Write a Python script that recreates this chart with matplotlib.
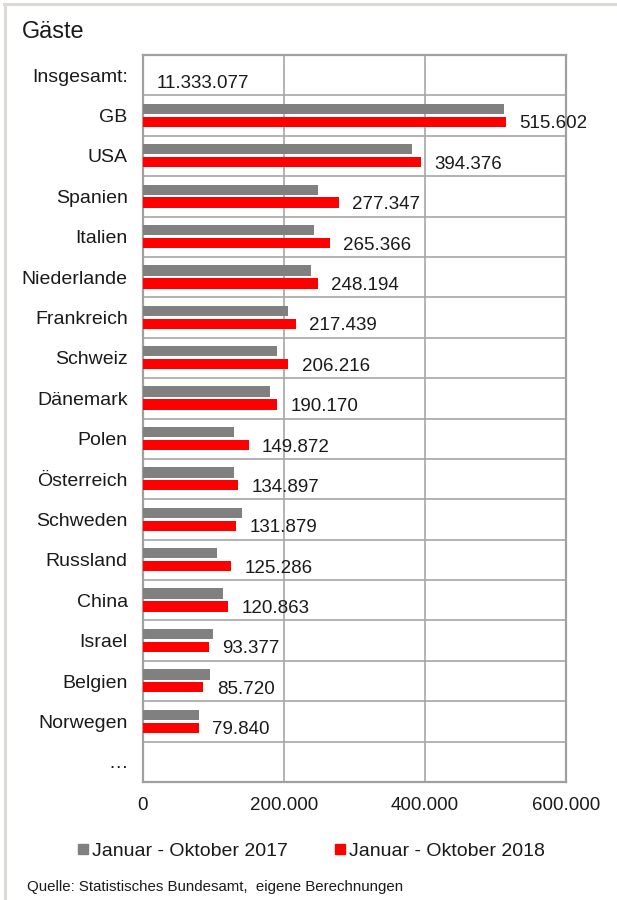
import matplotlib

matplotlib.use("Agg")
from matplotlib import pyplot as plt
from matplotlib.lines import Line2D

plt.rcParams["font.family"] = ["Liberation Sans", "DejaVu Sans"]

# data
countries = [
    "GB", "USA", "Spanien", "Italien", "Niederlande", "Frankreich", "Schweiz",
    "Dänemark", "Polen", "Österreich", "Schweden", "Russland", "China",
    "Israel", "Belgien", "Norwegen",
]
guests_2017 = [
    512000, 381000, 248000, 242000, 238000, 205000, 190000, 180000,
    128500, 128500, 141000, 105500, 114000, 99500, 95500, 79000,
]
guests_2018 = [
    515602, 394376, 277347, 265366, 248194, 217439, 206216, 190170,
    149872, 134897, 131879, 125286, 120863, 93377, 85720, 79840,
]
total_label = "Insgesamt:"
total_2018 = 11333077
tail_label = "…"
x_ticks = [0, 200000, 400000, 600000]
legend_labels = ["Januar - Oktober 2017", "Januar - Oktober 2018"]

GRAY = "#808080"
RED = "#ff0000"
FRAME = "#a0a0a0"
TEXT = "#1a1a1a"
FS = 13.5


def de_num(v):
    return f"{v:,.0f}".replace(",", ".")


W, H = 617, 900
fig = plt.figure(figsize=(W / 100, H / 100), dpi=100)
fig.patch.set_facecolor("white")

# plot area in pixels
left, right, top, bottom = 143, 566, 55, 782
ax = fig.add_axes([left / W, 1 - bottom / H, (right - left) / W, (bottom - top) / H])

labels = [total_label] + countries + [tail_label]
n = len(labels)
pos = list(range(1, len(countries) + 1))
bar_h = 0.255

ax.barh([p - 0.165 for p in pos], guests_2017, height=bar_h, color=GRAY, zorder=3)
ax.barh([p + 0.155 for p in pos], guests_2018, height=bar_h, color=RED, zorder=3)

for p, v in zip(pos, guests_2018):
    ax.annotate(de_num(v), xy=(v, p + 0.155), xytext=(9.5, -1.5),
                textcoords="offset points", ha="left", va="center",
                fontsize=FS, color=TEXT)
ax.annotate(de_num(total_2018), xy=(0, 0.155), xytext=(9.5, -1.5),
            textcoords="offset points", ha="left", va="center",
            fontsize=FS, color=TEXT)

ax.set_xlim(0, 600000)
ax.set_ylim(n - 0.5, -0.5)
ax.set_yticks(range(n))
ax.set_yticklabels(labels, fontsize=FS + 0.5, color=TEXT)
ax.set_yticks([i + 0.5 for i in range(n - 1)], minor=True)
ax.set_xticks(x_ticks)
ax.set_xticklabels([de_num(t) for t in x_ticks], fontsize=FS, color=TEXT)
ax.tick_params(axis="y", which="both", length=0, pad=11)
ax.tick_params(axis="x", length=0, pad=11)
ax.grid(True, axis="x", which="major", color="#a6a6a6", linewidth=1.2, zorder=0)
ax.grid(True, axis="y", which="minor", color="#a6a6a6", linewidth=1.2, zorder=0)
ax.grid(False, axis="y", which="major")
for s in ax.spines.values():
    s.set_color(FRAME)
    s.set_linewidth(1.6)

fig.text(22 / W, 1 - 32 / H, "Gäste", fontsize=16.8, color=TEXT, ha="left", va="center")

handles = [
    Line2D([], [], marker="s", linestyle="none", markersize=7, color=GRAY),
    Line2D([], [], marker="s", linestyle="none", markersize=7, color=RED),
]
fig.legend(handles, legend_labels, loc="center", bbox_to_anchor=(311 / W, 1 - 851 / H),
           ncol=2, frameon=False, fontsize=14, handlelength=0.55, handletextpad=0.2,
           columnspacing=2.4, labelcolor=TEXT)

fig.text(27 / W, 1 - 887 / H, "Quelle: Statistisches Bundesamt,  eigene Berechnungen",
         fontsize=10.8, color=TEXT, ha="left", va="center")

# outer frame (top and left edge)
fig.add_artist(Line2D([4 / W, 1], [1 - 4 / H, 1 - 4 / H], color="#dcd9d6", linewidth=2.2))
fig.add_artist(Line2D([5 / W, 5 / W], [0, 1 - 4 / H], color="#dcd9d6", linewidth=2.2))

fig.savefig("out.png", dpi=100)
